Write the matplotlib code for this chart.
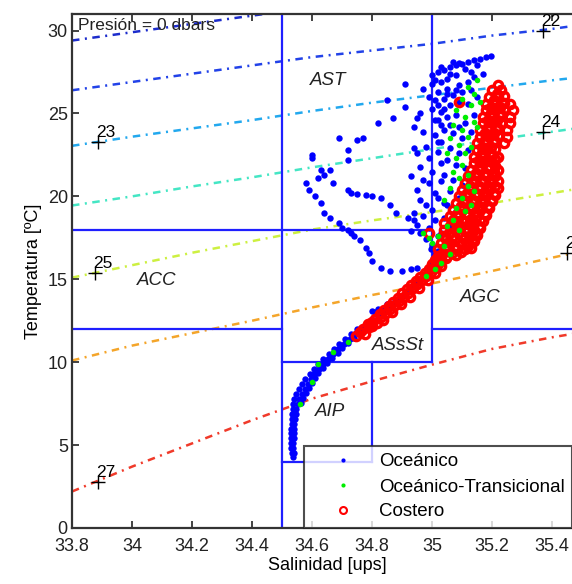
import numpy as np
import matplotlib
matplotlib.use("Agg")
import matplotlib.pyplot as plt
from matplotlib.lines import Line2D

plt.rcParams['font.family'] = ['Liberation Sans', 'DejaVu Sans']

# ---------------- data ----------------
sal_grid = [33.8, 34.0, 34.2, 34.4, 34.6, 34.8, 35.0, 35.2, 35.4, 35.5]
sig21_T = [29.4, 29.9, 30.4, 30.9, 31.4]
sig22_T = [26.4, 26.9, 27.4, 27.9, 28.4, 28.8, 29.2, 29.7, 30.1, 30.35]
sig23_T = [23.05, 23.6, 24.1, 24.6, 25.15, 25.65, 26.1, 26.55, 27.0, 27.2]
sig24_T = [19.45, 20.0, 20.6, 21.15, 21.75, 22.3, 22.85, 23.4, 23.9, 24.15]
sig25_T = [15.1, 15.85, 16.6, 17.3, 18.0, 18.55, 19.05, 19.6, 20.2, 20.5]
sig26_T = [10.1, 11.0, 11.75, 12.5, 13.3, 14.05, 14.75, 15.5, 16.3, 16.7]
sig27_T = [2.2, 3.7, 5.1, 6.5, 7.8, 8.85, 9.85, 10.8, 11.5, 11.8]
sigma_levels = [21, 22, 23, 24, 25, 26, 27]
sigma_colors = ['#1c2ccc', '#2242e8', '#22a8ee', '#44e6c4', '#cdf040', '#f4a52a', '#f03a2a']

# contour label positions (S, T, text)
label_S = [33.885, 33.875, 33.885, 35.37, 35.37, 35.45]
label_T = [23.3, 15.4, 2.8, 30.0, 23.9, 16.6]
label_txt = ['23', '25', '27', '22', '24', '26']

# water mass boxes: segments (S0, S1, T0, T1)
box_S0 = [34.5, 35.0, 33.8, 33.8, 35.0, 34.5, 34.5, 34.8]
box_S1 = [34.5, 35.0, 35.0, 34.5, 35.6, 35.0, 34.8, 34.8]
box_T0 = [0.0, 10.0, 18.0, 12.0, 12.0, 10.0, 4.0, 4.0]
box_T1 = [31.0, 31.0, 18.0, 12.0, 12.0, 10.0, 4.0, 10.0]

mass_names = ['AST', 'ACC', 'AGC', 'ASsSt', 'AIP']
mass_S = [34.653, 34.083, 35.16, 34.887, 34.66]
mass_T = [27.0, 14.9, 13.9, 11.0, 7.05]

# Oceánico (blue) points
ocean_deep = [
    [34.537, 4.3], [34.532, 4.5], [34.540, 4.5], [34.530, 4.8], [34.538, 4.8],
    [34.530, 5.1], [34.538, 5.1], [34.530, 5.4], [34.539, 5.4], [34.531, 5.7],
    [34.540, 5.7], [34.531, 6.0], [34.540, 6.0], [34.532, 6.3], [34.541, 6.3],
    [34.533, 6.6], [34.542, 6.6], [34.534, 6.9], [34.545, 6.9], [34.535, 7.2],
    [34.548, 7.2], [34.537, 7.5], [34.552, 7.5], [34.562, 7.55], [34.540, 7.8],
    [34.556, 7.8], [34.570, 7.85], [34.548, 8.1], [34.565, 8.1], [34.580, 8.15],
    [34.556, 8.4], [34.575, 8.4], [34.590, 8.45], [34.566, 8.7], [34.585, 8.7],
    [34.600, 8.75], [34.578, 9.0], [34.596, 9.0], [34.610, 9.05], [34.592, 9.3],
    [34.608, 9.3], [34.620, 9.35], [34.606, 9.6], [34.622, 9.6], [34.635, 9.65],
    [34.620, 9.9], [34.638, 9.9], [34.650, 9.95], [34.637, 10.2], [34.653, 10.2],
    [34.668, 10.25], [34.655, 10.5], [34.670, 10.5], [34.685, 10.55], [34.672, 10.8],
    [34.688, 10.8], [34.700, 10.85], [34.690, 11.1], [34.706, 11.1], [34.720, 11.15],
    [34.710, 11.4], [34.725, 11.4], [34.740, 11.45], [34.730, 11.7], [34.745, 11.75],
    [34.750, 12.0], [34.765, 12.05],
]
ocean_mid = [
    [34.78, 12.3], [34.80, 12.5], [34.82, 12.8], [34.81, 13.05], [34.83, 13.1],
    [34.845, 13.2], [34.86, 13.3], [34.85, 13.5], [34.87, 13.6], [34.885, 13.8],
    [34.90, 14.0], [34.91, 14.2], [34.925, 14.4], [34.94, 14.6], [34.95, 14.8],
    [34.96, 15.0], [34.975, 15.2], [34.985, 15.4], [34.99, 15.6], [35.0, 15.9],
    [35.005, 16.2], [35.01, 16.5], [34.995, 16.8], [35.0, 17.1], [34.80, 13.1],
    [34.82, 13.2], [34.84, 13.15],
]
ocean_tail = [
    [34.58, 20.8], [34.59, 20.4], [34.61, 20.0], [34.63, 19.6], [34.64, 19.0],
    [34.66, 18.7], [34.69, 18.4], [34.70, 18.1], [34.72, 17.95], [34.73, 17.8],
    [34.74, 17.6], [34.76, 17.35], [34.78, 16.9], [34.79, 16.6], [34.80, 16.1],
    [34.83, 15.7], [34.86, 15.5], [34.90, 15.5], [34.93, 15.6], [34.95, 15.7],
    [34.98, 15.4],
]
ocean_ast = [
    [34.91, 26.8], [34.85, 25.8], [34.91, 25.4], [34.87, 24.7], [34.82, 24.4],
    [34.69, 23.5], [34.75, 23.4], [34.77, 23.5], [34.72, 22.8], [34.60, 22.5],
    [34.60, 22.3], [34.72, 22.2], [34.63, 21.6], [34.66, 21.6], [34.62, 21.1],
    [34.67, 20.8], [34.64, 21.3], [34.72, 20.4], [34.73, 20.2], [34.75, 20.15],
    [34.78, 20.1], [34.80, 20.0], [34.83, 19.9], [34.86, 19.5], [34.88, 19.0],
    [34.92, 18.7], [34.94, 18.55],
]
ocean_upper = [
    [34.94, 24.2], [34.97, 23.9], [34.98, 23.0], [34.95, 22.6], [34.99, 22.3],
    [34.96, 21.8], [35.0, 21.5], [34.97, 21.0], [34.99, 20.8], [34.95, 20.4],
    [35.01, 20.2], [34.96, 19.8], [34.98, 19.5], [35.0, 19.2], [34.94, 19.0],
    [34.97, 18.8], [35.01, 18.6], [34.95, 18.3], [34.99, 18.1], [34.96, 17.8],
    [35.02, 17.6], [34.98, 17.4], [34.93, 17.9], [34.93, 21.2], [34.94, 22.9],
    [35.02, 23.3], [35.01, 24.6], [35.03, 22.0], [35.03, 20.9], [35.04, 19.6],
    [35.02, 19.9], [35.0, 17.0], [35.02, 16.7],
    [35.0, 27.3], [35.02, 27.5], [35.04, 27.6], [35.06, 27.8], [35.08, 27.9],
    [35.10, 28.0], [35.12, 28.1], [35.14, 28.2], [35.16, 28.3], [35.18, 28.4],
    [35.195, 28.45], [35.03, 27.8], [35.07, 28.1], [35.11, 27.7], [35.15, 27.9],
    [35.0, 26.8], [35.03, 26.9], [35.05, 27.1], [35.08, 27.3], [35.02, 26.3],
    [35.05, 26.5], [35.09, 26.7], [35.12, 26.9], [35.14, 27.2], [35.17, 27.4],
    [35.01, 25.8], [35.04, 25.9], [35.07, 26.1], [35.10, 26.3], [35.13, 26.4],
    [35.0, 25.3], [35.03, 25.1], [35.06, 25.5], [35.09, 25.7], [35.12, 25.6],
    [35.15, 26.0], [35.02, 24.6], [35.05, 24.8], [35.08, 24.9], [35.11, 24.4],
    [35.14, 24.9], [35.04, 24.0], [35.07, 23.8], [35.10, 23.5], [35.13, 23.9],
    [35.03, 23.3], [35.06, 22.9], [35.09, 22.6], [35.12, 22.8], [35.05, 22.2],
    [35.08, 21.9], [35.11, 21.7], [35.04, 21.3], [35.07, 21.0], [35.10, 20.7],
    [35.06, 20.3], [35.09, 19.9], [35.05, 19.5], [35.08, 19.1], [35.04, 18.7],
    [35.06, 18.2], [35.03, 17.8], [35.05, 17.2], [34.97, 26.5], [34.99, 26.0],
    [34.96, 25.0], [34.95, 24.7], [35.01, 27.0], [35.06, 27.4], [35.09, 28.05],
    [35.13, 27.5], [35.02, 25.5], [35.05, 26.2], [35.08, 26.4], [35.04, 25.3],
    [35.06, 24.3], [35.09, 24.2], [35.01, 23.7], [35.03, 24.3], [35.02, 22.7],
]

# Oceánico-Transicional (green) points
trans_pts = [
    [35.15, 27.0], [35.12, 26.6], [35.14, 26.2], [35.10, 25.9], [35.13, 25.5],
    [35.08, 25.2], [35.11, 24.8], [35.14, 24.5], [35.07, 24.3], [35.10, 24.0],
    [35.12, 23.6], [35.06, 23.5], [35.09, 23.1], [35.11, 22.6], [35.05, 22.6],
    [35.08, 22.3], [35.10, 21.9], [35.07, 21.5], [35.09, 21.1], [35.12, 20.6],
    [35.14, 20.3], [35.06, 20.5], [35.10, 19.9], [35.08, 19.3], [35.11, 19.1],
    [35.07, 18.6], [35.05, 18.2], [35.09, 18.0], [35.02, 17.6], [34.99, 17.5],
    [34.97, 17.8], [35.0, 17.2], [35.04, 17.0], [35.06, 16.5], [35.03, 16.0],
    [35.01, 15.6], [34.98, 15.2], [35.13, 19.5], [35.12, 21.3], [35.13, 23.0],
    [35.15, 24.2], [35.04, 19.8], [35.16, 25.7], [34.62, 9.9], [34.67, 10.6],
    [34.72, 11.2], [34.60, 8.8], [34.56, 7.5],
]

# Costero (red) points
coast_band = [
    [34.745, 11.6], [34.76, 11.8], [34.775, 11.7], [34.77, 12.0], [34.79, 12.1],
    [34.785, 12.3], [34.80, 12.4], [34.815, 12.35], [34.81, 12.6], [34.83, 12.7],
    [34.825, 12.9], [34.845, 12.95], [34.84, 13.15], [34.86, 13.2], [34.855, 13.4],
    [34.875, 13.45], [34.87, 13.65], [34.89, 13.7], [34.885, 13.9], [34.905, 13.95],
    [34.90, 14.15], [34.92, 14.2], [34.915, 14.4], [34.935, 14.45], [34.93, 14.65],
    [34.95, 14.7], [34.945, 14.9], [34.965, 14.95], [34.96, 15.15], [34.98, 15.2],
    [34.975, 15.4], [34.995, 15.45], [34.99, 15.65], [35.01, 15.7], [35.0, 15.9],
    [35.02, 15.95], [35.01, 16.15], [35.03, 16.2], [35.045, 16.3],
    [34.80, 12.2], [34.835, 12.55], [34.865, 13.0], [34.895, 13.5], [34.925, 13.95],
    [34.955, 14.45], [34.985, 14.95], [35.01, 15.4], [35.03, 15.8],
]
coast_upper = [
    [35.02, 16.4], [35.05, 16.4], [35.08, 16.45],
    [35.02, 16.8], [35.05, 16.8], [35.08, 16.85], [35.11, 16.8], [35.13, 16.9],
    [35.03, 17.2], [35.06, 17.2], [35.09, 17.25], [35.12, 17.2], [35.14, 17.3],
    [35.035, 17.6], [35.07, 17.6], [35.10, 17.65], [35.13, 17.6], [35.15, 17.7],
    [35.04, 18.0], [35.08, 18.0], [35.11, 18.05], [35.14, 18.0], [35.16, 18.1],
    [35.04, 18.4], [35.08, 18.4], [35.11, 18.45], [35.14, 18.4], [35.17, 18.5],
    [35.06, 18.8], [35.09, 18.8], [35.12, 18.85], [35.15, 18.8], [35.18, 18.9],
    [35.07, 19.2], [35.10, 19.2], [35.13, 19.25], [35.16, 19.2], [35.19, 19.3],
    [35.08, 19.6], [35.11, 19.6], [35.14, 19.65], [35.17, 19.6], [35.20, 19.7],
    [35.09, 20.0], [35.12, 20.0], [35.15, 20.05], [35.18, 20.0], [35.21, 20.1],
    [35.10, 20.4], [35.13, 20.4], [35.16, 20.45], [35.19, 20.4], [35.22, 20.5],
    [35.11, 20.8], [35.14, 20.8], [35.17, 20.85], [35.20, 20.8], [35.22, 20.9],
    [35.12, 21.2], [35.15, 21.2], [35.18, 21.25], [35.21, 21.2],
    [35.13, 21.6], [35.16, 21.6], [35.19, 21.65], [35.22, 21.6],
    [35.14, 22.0], [35.17, 22.0], [35.20, 22.05],
    [35.14, 22.4], [35.17, 22.4], [35.20, 22.45], [35.22, 22.4],
    [35.15, 22.8], [35.18, 22.8], [35.21, 22.85],
    [35.15, 23.2], [35.18, 23.2], [35.21, 23.25], [35.24, 23.2],
    [35.16, 23.6], [35.19, 23.6], [35.22, 23.65], [35.25, 23.6],
    [35.16, 24.0], [35.19, 24.0], [35.22, 24.05], [35.25, 24.0],
    [35.17, 24.4], [35.20, 24.4], [35.23, 24.45], [35.26, 24.4],
    [35.17, 24.8], [35.20, 24.8], [35.23, 24.85], [35.26, 24.8],
    [35.18, 25.2], [35.21, 25.2], [35.24, 25.25], [35.27, 25.2],
    [35.18, 25.6], [35.21, 25.6], [35.24, 25.65], [35.26, 25.6],
    [35.19, 26.0], [35.22, 26.0], [35.24, 26.05],
    [35.20, 26.4], [35.23, 26.4], [35.22, 26.7], [35.09, 25.7], [34.99, 17.8],
]
coast_fill = [
    [35.035, 16.6], [35.065, 16.6], [35.095, 16.65], [35.12, 17.0],
    [35.045, 17.0], [35.075, 17.0], [35.105, 17.4], [35.075, 17.4], [35.045, 17.4],
    [35.135, 17.4], [35.055, 17.8], [35.085, 17.8], [35.115, 17.85], [35.145, 17.8],
    [35.06, 18.2], [35.095, 18.2], [35.125, 18.25], [35.155, 18.2],
    [35.07, 18.6], [35.10, 18.6], [35.13, 18.65], [35.16, 18.6],
    [35.085, 19.0], [35.115, 19.0], [35.145, 19.05], [35.175, 19.0],
    [35.095, 19.4], [35.125, 19.4], [35.155, 19.45], [35.185, 19.4],
    [35.105, 19.8], [35.135, 19.8], [35.165, 19.85], [35.195, 19.8],
    [35.115, 20.2], [35.145, 20.2], [35.175, 20.25], [35.205, 20.2],
    [35.125, 20.6], [35.155, 20.6], [35.185, 20.65], [35.21, 20.6],
    [35.135, 21.0], [35.165, 21.0], [35.195, 21.05],
    [35.145, 21.4], [35.175, 21.4], [35.205, 21.45],
    [35.155, 21.8], [35.185, 21.8], [35.21, 21.85],
    [35.155, 22.2], [35.185, 22.2], [35.21, 22.25],
    [35.165, 22.6], [35.195, 22.6], [35.165, 23.0], [35.195, 23.0],
    [35.175, 23.4], [35.205, 23.4], [35.175, 23.8], [35.205, 23.8],
    [35.185, 24.2], [35.215, 24.2], [35.185, 24.6], [35.215, 24.6],
    [35.195, 25.0], [35.225, 25.0], [35.195, 25.4], [35.225, 25.4],
    [35.205, 25.8], [35.215, 26.2],
]

# ---------------- figure ----------------
fig = plt.figure(figsize=(5.72, 5.84), dpi=100)
ax = fig.add_axes([72 / 572, 56 / 584, 510 / 572, 514 / 584])
ax.set_xlim(33.8, 35.5)
ax.set_ylim(0, 31)

sig_T_all = [sig21_T, sig22_T, sig23_T, sig24_T, sig25_T, sig26_T, sig27_T]
for lev, tv, col in zip(sigma_levels, sig_T_all, sigma_colors):
    ax.plot(sal_grid[:len(tv)], tv, color=col, lw=1.8,
            linestyle=(0, (3.0, 2.2, 0.8, 2.2)), zorder=1)

for s, t, txt in zip(label_S, label_T, label_txt):
    ax.plot([s], [t], marker='+', color='k', markersize=10, mew=1.0, zorder=6)
    ax.text(s - 0.005, t + 0.1, txt, fontsize=12.5, ha='left', va='bottom',
            color='k', zorder=6)

for s0, s1, t0, t1 in zip(box_S0, box_S1, box_T0, box_T1):
    ax.plot([s0, s1], [t0, t1], color='#1f1fff', lw=1.6, zorder=2)

for name, s, t in zip(mass_names, mass_S, mass_T):
    ax.text(s, t, name, fontsize=13.5, style='italic', ha='center', va='center',
            color='#222222', zorder=6)

ocean = np.array(ocean_deep + ocean_mid + ocean_tail + ocean_ast + ocean_upper)
trans = np.array(trans_pts)
coast = np.array(coast_band + coast_upper + coast_fill)

ax.plot(ocean[:, 0], ocean[:, 1], linestyle='none', marker='o', markersize=4.6,
        color='#0000ff', mew=0, zorder=3)
ax.plot(coast[:, 0], coast[:, 1], linestyle='none', marker='o', markersize=6.0,
        mfc='none', mec='#ff0000', mew=2.4, zorder=4)
ax.plot(trans[:, 0], trans[:, 1], linestyle='none', marker='o', markersize=4.0,
        color='#00ee00', mew=0, zorder=5)

ax.text(33.82, 30.3, 'Presión = 0 dbars', fontsize=12.5, ha='left', va='center',
        color='#222222', zorder=6)

handles = [
    Line2D([], [], linestyle='none', marker='o', markersize=3, color='#0000ff', mew=0),
    Line2D([], [], linestyle='none', marker='o', markersize=3, color='#00ee00', mew=0),
    Line2D([], [], linestyle='none', marker='o', markersize=5, mfc='none',
           mec='#ff0000', mew=1.5),
]
leg = ax.legend(handles, ['Oceánico', 'Oceánico-Transicional', 'Costero'],
                loc='lower left', bbox_to_anchor=(0.455, 0.0), fontsize=13.5,
                frameon=True, fancybox=False, borderpad=0.4, labelspacing=0.42,
                handlelength=3.4, handletextpad=0.2, borderaxespad=0.0,
                numpoints=1)
leg.get_frame().set_edgecolor('#222222')
leg.get_frame().set_linewidth(1.5)
leg.set_zorder(10)

ax.set_xticks([33.8, 34.0, 34.2, 34.4, 34.6, 34.8, 35.0, 35.2, 35.4])
ax.set_xticklabels(['33.8', '34', '34.2', '34.4', '34.6', '34.8', '35', '35.2', '35.4'])
ax.set_yticks([0, 5, 10, 15, 20, 25, 30])
ax.tick_params(direction='in', length=5, width=1.2, labelsize=13, top=True,
               right=True, colors='#222222')
ax.tick_params(axis='x', pad=7)
ax.tick_params(axis='y', pad=3)
for sp in ax.spines.values():
    sp.set_linewidth(1.6)
    sp.set_color('#333333')

ax.set_xlabel('Salinidad [ups]', fontsize=13, labelpad=2)
ax.set_ylabel('Temperatura [ºC]', fontsize=13, labelpad=4)

fig.savefig('out.png', dpi=100)
